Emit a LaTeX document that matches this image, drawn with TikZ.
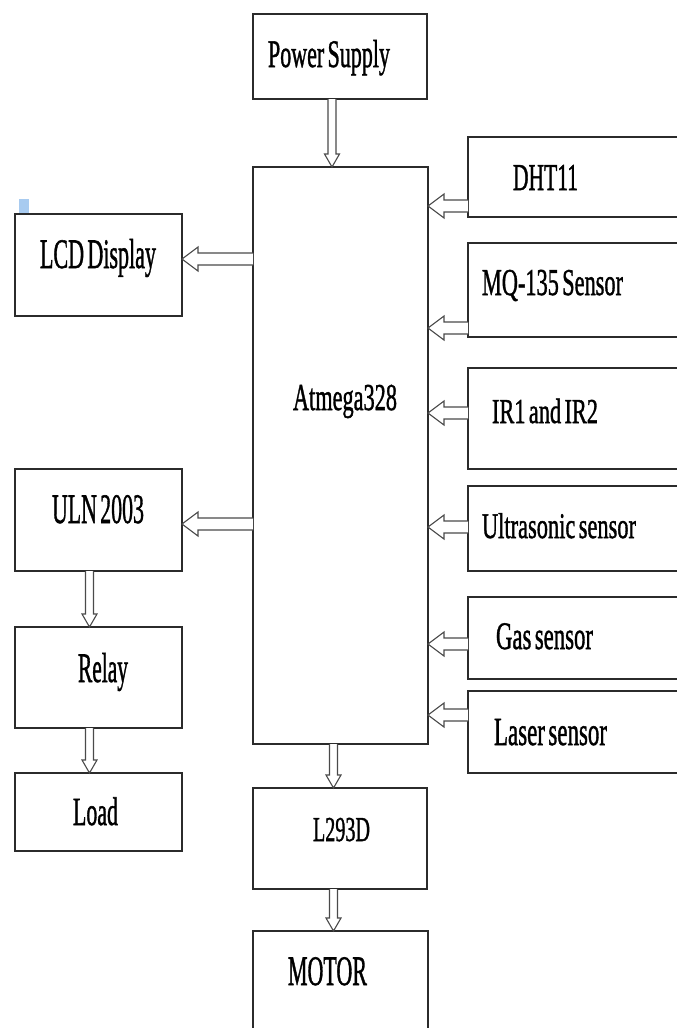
\documentclass[tikz,border=0pt]{standalone}
\usepackage{fontspec}
\setmainfont{Liberation Serif}[FakeBold=1.4, WordSpace=0.6]
\usepackage{graphicx}
\usetikzlibrary{calc}
\definecolor{boxline}{HTML}{2B2B2B}
\definecolor{arrline}{HTML}{4A4A4A}
\definecolor{marker}{HTML}{A8CBF0}
\tikzset{
  box/.style={draw=boxline, line width=1.2pt, rectangle, inner sep=0pt, outer sep=0pt},
  lab/.style={anchor=base west, inner sep=0pt, outer sep=0pt, text=black},
  arr/.style={draw=arrline, line width=1.1pt, fill=white, line join=miter}
}
% box: name, cx, cy, w, h
\newcommand\bx[5]{\node[box, minimum width=#4pt, minimum height=#5pt] (#1) at (#2,#3) {};}
% label: name, left x, baseline y, width, font size, text
\newcommand\lbl[6]{\node[lab] (#1) at (#2,#3) {\resizebox{#4pt}{\height}{\fontsize{#5}{#5}\selectfont #6}};}
% left-pointing block arrow: tail coordinate, tip coordinate
\newcommand\harr[2]{%
  \draw[arr] ($(#1)+(0,-6)$) -- ($(#2)+(16,-6)$) -- ($(#2)+(16,-12)$) -- (#2)
    -- ($(#2)+(16,12)$) -- ($(#2)+(16,6)$) -- ($(#1)+(0,6)$);}
% down-pointing block arrow: tail coordinate, tip coordinate
\newcommand\varr[2]{%
  \draw[arr] ($(#1)+(-4,0)$) -- ($(#2)+(-4,-13)$) -- ($(#2)+(-7.5,-13)$) -- (#2)
    -- ($(#2)+(7.5,-13)$) -- ($(#2)+(4,-13)$) -- ($(#1)+(4,0)$);}
\begin{document}
\begin{tikzpicture}[x=1pt, y=-1pt]
\useasboundingbox (0,0) rectangle (677,1028);
\clip (0,0) rectangle (677,1028);
\fill[white] (0,0) rectangle (677,1028);

% marker
\fill[marker] (19,199) rectangle (29,214);

% boxes
\bx{ps}{340}{56.5}{174}{85}
\bx{atm}{340.5}{455.5}{175}{577}
\bx{dht}{579}{177}{222}{80}
\bx{mq}{579}{290}{222}{94}
\bx{ir}{579}{418.5}{222}{101}
\bx{us}{579}{528.5}{222}{85}
\bx{gas}{579}{638}{222}{82}
\bx{laser}{579}{732}{222}{82}
\bx{lcd}{98.5}{265}{167}{102}
\bx{uln}{98.5}{520}{167}{102}
\bx{relay}{98.5}{677.5}{167}{101}
\bx{load}{98.5}{812}{167}{78}
\bx{l293}{340}{838.5}{174}{101}
\bx{motor}{340.5}{988}{175}{114}

% labels
\lbl{tps}{268}{67}{122}{39}{Power Supply}
\lbl{tatm}{293}{410}{104}{38}{Atmega328}
\lbl{tdht}{513}{190}{65}{38}{DHT11}
\lbl{tmq}{482}{295}{141}{38}{MQ-135 Sensor}
\lbl{tir}{492}{423}{106}{35}{IR1 and IR2}
\lbl{tus}{482}{538}{154}{36}{Ultrasonic sensor}
\lbl{tgas}{496}{649}{97}{39}{Gas sensor}
\lbl{tlaser}{494}{745}{113}{40}{Laser sensor}
\lbl{tlcd}{40}{268}{116}{42}{LCD Display}
\lbl{tuln}{52}{523}{92}{42}{ULN 2003}
\lbl{trelay}{78}{682}{50}{42}{Relay}
\lbl{tload}{73}{825}{45}{40}{Load}
\lbl{tl293}{313}{841}{57}{35}{L293D}
\lbl{tmotor}{288}{985}{79}{42}{MOTOR}

% horizontal arrows into the microcontroller
\coordinate (a1t) at (dht.west |- 0,206);   \coordinate (a1h) at (atm.east |- 0,206);
\coordinate (a2t) at (mq.west |- 0,328);    \coordinate (a2h) at (atm.east |- 0,328);
\coordinate (a3t) at (ir.west |- 0,413);    \coordinate (a3h) at (atm.east |- 0,413);
\coordinate (a4t) at (us.west |- 0,527);    \coordinate (a4h) at (atm.east |- 0,527);
\coordinate (a5t) at (gas.west |- 0,644);   \coordinate (a5h) at (atm.east |- 0,644);
\coordinate (a6t) at (laser.west |- 0,715); \coordinate (a6h) at (atm.east |- 0,715);
\harr{a1t}{a1h}
\harr{a2t}{a2h}
\harr{a3t}{a3h}
\harr{a4t}{a4h}
\harr{a5t}{a5h}
\harr{a6t}{a6h}
% horizontal arrows out of the microcontroller
\coordinate (b1t) at (atm.west |- 0,259); \coordinate (b1h) at (lcd.east |- 0,259);
\coordinate (b2t) at (atm.west |- 0,524); \coordinate (b2h) at (uln.east |- 0,524);
\harr{b1t}{b1h}
\harr{b2t}{b2h}

% vertical arrows
\coordinate (c1t) at (ps.south -| 332,0);    \coordinate (c1h) at (atm.north -| 332,0);
\coordinate (c2t) at (uln.south -| 89.5,0);  \coordinate (c2h) at (relay.north -| 89.5,0);
\coordinate (c3t) at (relay.south -| 89.5,0);\coordinate (c3h) at (load.north -| 89.5,0);
\coordinate (c4t) at (atm.south -| 333.5,0); \coordinate (c4h) at (l293.north -| 333.5,0);
\coordinate (c5t) at (l293.south -| 333.5,0);\coordinate (c5h) at (motor.north -| 333.5,0);
\varr{c1t}{c1h}
\varr{c2t}{c2h}
\varr{c3t}{c3h}
\varr{c4t}{c4h}
\varr{c5t}{c5h}
\end{tikzpicture}
\end{document}
